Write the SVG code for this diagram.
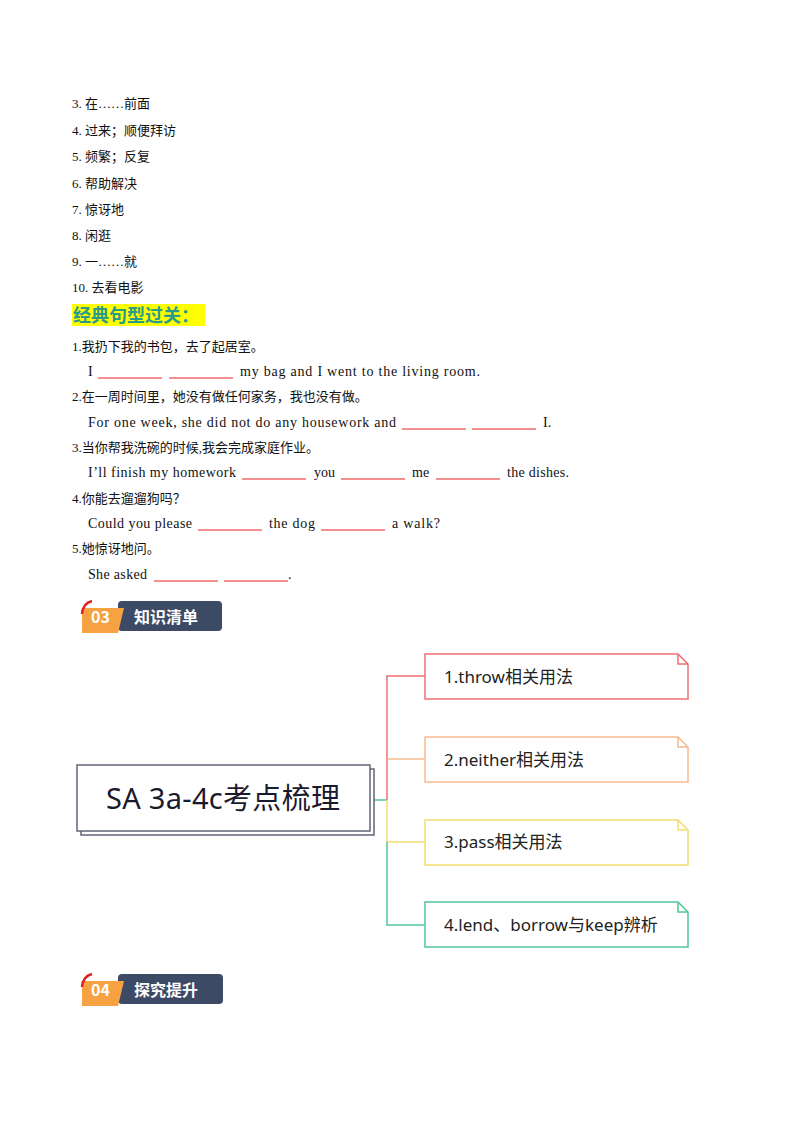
<svg xmlns="http://www.w3.org/2000/svg" width="800" height="1132" viewBox="0 0 800 1132">
<style>
.t{font-family:"Liberation Serif","Noto Sans CJK SC",serif;font-size:13px;fill:#111}
.e{font-size:14px}
.b{stroke:#f06a6a;stroke-width:1.3}
.n{font-family:"Noto Sans","Noto Sans CJK SC",sans-serif;font-size:17px;fill:#222}
.badge{font-family:"Noto Sans CJK SC",sans-serif;font-weight:bold;font-size:16px;fill:#fff}
</style>
<rect width="800" height="1132" fill="#fff"/>
<g id="list" class="t">
<text x="72" y="108">3.  在……前面</text>
<text x="72" y="135">4.  过来；顺便拜访</text>
<text x="72" y="161">5.  频繁；反复</text>
<text x="72" y="188">6.  帮助解决</text>
<text x="72" y="214">7.  惊讶地</text>
<text x="72" y="240">8.  闲逛</text>
<text x="72" y="266">9.  一……就</text>
<text x="72" y="292">10.  去看电影</text>
</g>
<g id="heading">
<rect x="72" y="304" width="133" height="22" fill="#ffff00"/>
<text x="73" y="322" font-family="Noto Sans CJK SC,sans-serif" font-weight="bold" font-size="18" fill="#2a9a8a">经典句型过关：</text>
</g>
<g id="sentences" class="t">
<text x="72" y="351">1.我扔下我的书包，去了起居室。</text>
<text class="e" x="88" y="376">I</text><line class="b" x1="98" y1="378" x2="162" y2="378"/><line class="b" x1="169" y1="378" x2="233" y2="378"/>
<text class="e" x="240" y="376" textLength="240" lengthAdjust="spacing">my bag and I went to the living room.</text>
<text x="72" y="401">2.在一周时间里，她没有做任何家务，我也没有做。</text>
<text class="e" x="88" y="427" textLength="308" lengthAdjust="spacing">For one week, she did not do any housework and</text><line class="b" x1="402" y1="429" x2="466" y2="429"/><line class="b" x1="472" y1="429" x2="536" y2="429"/>
<text class="e" x="543" y="427">I.</text>
<text x="72" y="452">3.当你帮我洗碗的时候,我会完成家庭作业。</text>
<text class="e" x="88" y="477" textLength="148" lengthAdjust="spacing">I’ll finish my homework</text><line class="b" x1="242" y1="479" x2="306" y2="479"/>
<text class="e" x="314" y="477">you</text><line class="b" x1="341" y1="479" x2="405" y2="479"/>
<text class="e" x="412" y="477">me</text><line class="b" x1="436" y1="479" x2="500" y2="479"/>
<text class="e" x="507" y="477" textLength="62" lengthAdjust="spacing">the dishes.</text>
<text x="72" y="503">4.你能去遛遛狗吗？</text>
<text class="e" x="88" y="528" textLength="104" lengthAdjust="spacing">Could you please</text><line class="b" x1="198" y1="530" x2="262" y2="530"/>
<text class="e" x="269" y="528" textLength="46" lengthAdjust="spacing">the dog</text><line class="b" x1="321" y1="530" x2="385" y2="530"/>
<text class="e" x="392" y="528" textLength="48" lengthAdjust="spacing">a walk?</text>
<text x="72" y="553">5.她惊讶地问。</text>
<text class="e" x="88" y="579" textLength="59" lengthAdjust="spacing">She asked</text><line class="b" x1="154" y1="581" x2="218" y2="581"/><line class="b" x1="224" y1="581" x2="288" y2="581"/>
<text class="e" x="288" y="579">.</text>
</g>
<g id="badge03">
<rect x="118" y="601" width="104" height="30" rx="4" fill="#3d4a66"/>
<polygon points="82,608 124,608 118,633 82,633" fill="#f6a243"/>
<path d="M82,614 Q83,603 92,601" fill="none" stroke="#e02020" stroke-width="2.5"/>
<text x="91" y="623" class="badge" font-size="14">03</text>
<text x="134" y="623" class="badge">知识清单</text>
</g>
<g id="badge04">
<rect x="118" y="974" width="105" height="30" rx="4" fill="#3d4a66"/>
<polygon points="82,981 124,981 118,1006 82,1006" fill="#f6a243"/>
<path d="M82,987 Q83,976 92,974" fill="none" stroke="#e02020" stroke-width="2.5"/>
<text x="91" y="996" class="badge" font-size="14">04</text>
<text x="134" y="996" class="badge">探究提升</text>
</g>
<g id="connectors" fill="none" stroke-width="1.5">
<path d="M373,800 H387" stroke="#4fc796"/>
<path d="M387,800 V676 H425" stroke="#ef7070"/>
<path d="M387,759 H425" stroke="#f5bb90"/>
<path d="M387,800 V842 H425" stroke="#f3dd70"/>
<path d="M387,842 V925 H425" stroke="#4fc796"/>
</g>
<g id="central">
<rect x="81" y="769" width="293" height="66" fill="#fff" stroke="#606478" stroke-width="1.5"/>
<rect x="77" y="765" width="293" height="66" fill="#fff" stroke="#606478" stroke-width="1.5"/>
<text x="106" y="809" font-family="Noto Sans,Noto Sans CJK SC,sans-serif" font-size="29" fill="#1a1a2e" textLength="234">SA 3a-4c考点梳理</text>
</g>
<g id="node1"><path d="M425,654 H678 L688,664 V699 H425 Z M678,654 V664 H688" fill="#fff" stroke="#ef7070" stroke-width="1.5"/><text x="444" y="683" class="n">1.throw相关用法</text></g>
<g id="node2"><path d="M425,737 H678 L688,747 V782 H425 Z M678,737 V747 H688" fill="#fff" stroke="#f5bb90" stroke-width="1.5"/><text x="444" y="766" class="n">2.neither相关用法</text></g>
<g id="node3"><path d="M425,820 H678 L688,830 V865 H425 Z M678,820 V830 H688" fill="#fff" stroke="#f3dd70" stroke-width="1.5"/><text x="444" y="848" class="n">3.pass相关用法</text></g>
<g id="node4"><path d="M425,902 H678 L688,912 V947 H425 Z M678,902 V912 H688" fill="#fff" stroke="#4fc796" stroke-width="1.5"/><text x="444" y="931" class="n">4.lend、borrow与keep辨析</text></g>
</svg>
